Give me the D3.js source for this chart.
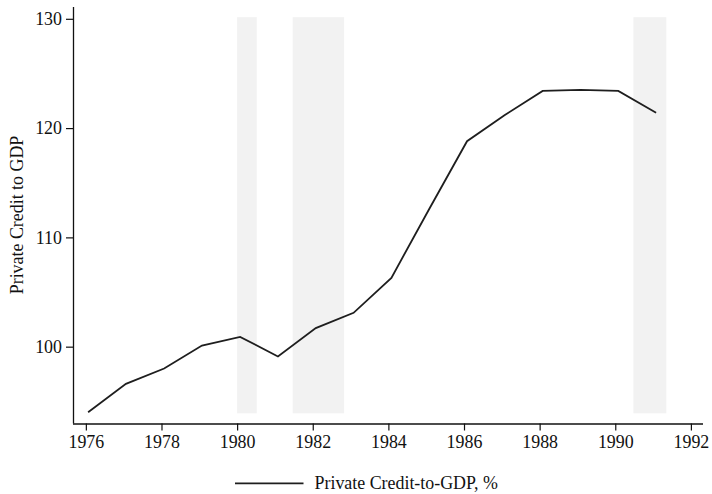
<!DOCTYPE html>
<html>
<head>
<meta charset="utf-8">
<script src="https://cdn.jsdelivr.net/npm/d3@7"></script>
<style>
  html, body { margin: 0; padding: 0; background: #fff; }
  svg { display: block; }
  text { font-family: "Liberation Serif", "Times New Roman", serif; fill: #111; }
</style>
</head>
<body>
<svg id="chart" width="712" height="494"></svg>
<script>
// Private credit-to-GDP, annual observations (year, percent)
const years = [1976.06, 1977.06, 1978.07, 1979.07, 1980.08, 1981.08, 1982.08, 1983.08,
               1984.08, 1985.08, 1986.08, 1987.08, 1988.08, 1989.08, 1990.08, 1991.08];
const credit = [94.0, 96.6, 98.0, 100.1, 100.9, 99.1, 101.7, 103.1,
                106.3, 112.6, 118.8, 121.2, 123.4, 123.5, 123.4, 121.4];

// Recession periods shaded in the background
const recessionStart = [1980.0, 1981.47, 1990.48];
const recessionEnd   = [1980.52, 1982.83, 1991.35];
const bandLow = 93.9, bandHigh = 130.15;

const xTicks = [1976, 1978, 1980, 1982, 1984, 1986, 1988, 1990, 1992];
const yTicks = [100, 110, 120, 130];

const yTitle = "Private Credit to GDP";
const legendLabel = "Private Credit-to-GDP, %";

const svg = d3.select("#chart");
const plotLeft = 73, plotRight = 703, plotTop = 7, plotBottom = 423.5;
const fontSize = "17.9px";

const x = d3.scaleLinear().domain([1975.66, 1992.32]).range([plotLeft, plotRight]);
const y = d3.scaleLinear().domain([92.97, 131.08]).range([plotBottom, plotTop]);

// shaded bands
svg.append("g").selectAll("rect")
  .data(recessionStart.map((s, i) => [s, recessionEnd[i]]))
  .join("rect")
  .attr("x", d => x(d[0]))
  .attr("width", d => x(d[1]) - x(d[0]))
  .attr("y", y(bandHigh))
  .attr("height", y(bandLow) - y(bandHigh))
  .attr("fill", "#f2f2f2");

// series line
const line = d3.line().x((d, i) => x(years[i])).y(d => y(d));
svg.append("path")
  .datum(credit)
  .attr("d", line)
  .attr("fill", "none")
  .attr("stroke", "#1e1e1e")
  .attr("stroke-width", 1.8)
  .attr("stroke-linejoin", "miter");

// axes
const xAxis = d3.axisBottom(x).tickValues(xTicks).tickFormat(d3.format("d"))
  .tickSize(7).tickPadding(5).tickSizeOuter(0);
const gx = svg.append("g").attr("transform", `translate(0,${plotBottom})`).call(xAxis);

const yAxis = d3.axisLeft(y).tickValues(yTicks).tickFormat(d3.format("d"))
  .tickSize(7).tickPadding(4).tickSizeOuter(0);
const gy = svg.append("g").attr("transform", `translate(${plotLeft},0)`).call(yAxis);

[gx, gy].forEach(g => {
  g.selectAll("path.domain").attr("stroke", "#111").attr("stroke-width", 1.3);
  g.selectAll(".tick line").attr("stroke", "#111").attr("stroke-width", 1.2);
  g.selectAll(".tick text")
    .style("font-family", '"Liberation Serif", "Times New Roman", serif')
    .style("font-size", fontSize)
    .attr("fill", "#111");
});
gx.select("path.domain").attr("d", `M${plotLeft},0.5H${plotRight}`);
gy.select("path.domain").attr("d", `M0.5,${plotTop}V${plotBottom}`);

// y-axis title
svg.append("text")
  .attr("transform", `translate(23,215) rotate(-90)`)
  .attr("text-anchor", "middle")
  .style("font-size", fontSize)
  .text(yTitle);

// legend
svg.append("line")
  .attr("x1", 235).attr("x2", 303.5)
  .attr("y1", 483.3).attr("y2", 483.3)
  .attr("stroke", "#1e1e1e").attr("stroke-width", 1.8);
svg.append("text")
  .attr("x", 314.5).attr("y", 489)
  .style("font-size", fontSize)
  .text(legendLabel);
</script>
</body>
</html>
